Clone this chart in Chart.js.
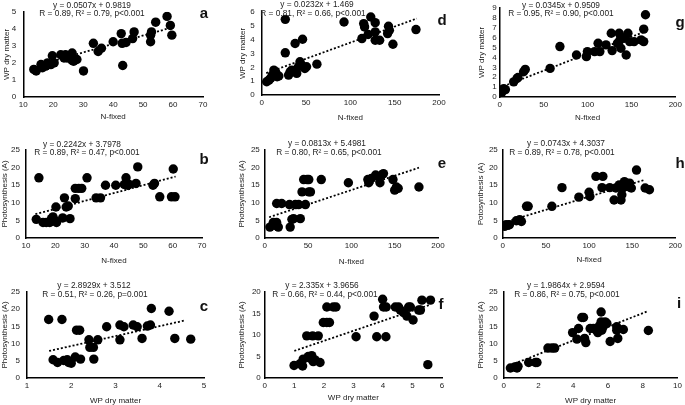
<!DOCTYPE html>
<html>
<head>
<meta charset="utf-8">
<script src="https://cdn.jsdelivr.net/npm/chart.js@4.4.1/dist/chart.umd.min.js"></script>
<style>
body{margin:0;background:#fff;}
#wrap{position:relative;width:685px;height:405px;overflow:hidden;font-family:"Liberation Sans",Arial,sans-serif;color:#222;}
canvas{position:absolute;}
.eq{position:absolute;font-size:8.3px;white-space:nowrap;transform:translate(-50%,-50%);}
.lab{position:absolute;font-size:15px;font-weight:bold;color:#111;transform:translate(-50%,-50%);}
</style>
</head>
<body>
<div id="wrap"></div>
<script>
// ---- data ----
// a: N-fixed vs WP dry matter
const aNfix = [13.5,14.3,15.9,16.4,17.5,18.1,19.2,19.7,20.3,22.5,23.6,24.1,24.6,26.3,26.3,26.8,27.9,30.1,33.4,35.0,36.1,40.0,42.7,43.0,43.2,44.3,46.5,47.0,52.5,52.5,52.8,54.2,58.0,59.1,59.6];
const aWP   = [1.62,1.53,1.91,1.72,1.81,2.0,1.9,2.42,2.0,2.48,2.29,2.48,2.29,2.58,2.14,2.1,2.2,1.53,3.15,2.67,2.86,3.24,3.72,3.15,1.85,3.2,3.43,3.82,3.24,3.63,3.82,4.39,4.73,4.2,3.63];
const aTrendX = [13.5, 60];
const aTrendY = [1.8, 4.1];
// b: N-fixed vs photosynthesis
const bNfix = [13.5,14.4,15.8,16.9,18.1,18.7,19.2,19.8,20.4,20.2,22.5,23.1,23.7,24.4,25.0,26.8,26.8,28.0,29.0,30.8,33.9,35.4,37.1,40.6,43.5,44.1,44.6,45.2,47.5,48.1,53.3,53.8,55.6,59.6,60.2,60.8];
const bPhoto = [5.3,17.1,4.4,4.4,4.4,5.5,6.0,5.0,4.4,8.8,5.7,11.4,8.8,9.1,5.5,14.1,11.2,14.1,14.1,17.1,11.4,11.4,15.0,15.0,15.2,17.1,15.0,15.2,15.5,20.2,15.0,15.5,11.7,11.7,19.6,11.7];
const bTrendX = [13.2, 61];
const bTrendY = [6.76, 17.47];
// c: WP dry matter vs photosynthesis
const cWP = [1.49,1.59,1.69,1.79,1.83,1.91,1.94,2.0,2.09,2.12,2.19,2.21,2.40,2.42,2.50,2.51,2.60,2.80,3.10,3.10,3.19,3.40,3.49,3.60,3.72,3.79,3.81,4.21,4.34,4.70];
const cPhoto = [17.0,5.3,4.5,17.0,5.1,5.3,4.5,4.3,6.1,13.9,13.9,5.5,11.1,8.9,8.9,5.5,11.1,14.9,15.4,11.1,14.9,15.4,14.9,11.5,15.1,15.4,20.2,19.4,11.5,11.3];
const cTrendX = [1.5, 4.55];
const cTrendY = [7.85, 16.67];
// d: N-fixed vs WP dry matter
const dNfix = [5.5,8.1,9.9,11.8,13.6,15.5,17.3,19.2,26.5,26.5,30.2,32.0,33.9,37.6,39.4,41.3,43.1,44.9,46.0,48.6,50.5,62.2,92.8,113,115,116,120,123,128,128,128,133,142,143,144,148,174];
const dWP   = [0.96,1.08,1.2,1.44,1.8,1.68,1.32,1.37,5.47,3.05,1.44,1.68,1.8,3.72,1.56,2.04,2.4,2.16,4.03,1.92,2.04,2.23,5.28,4.08,5.16,4.92,4.37,5.64,5.23,4.56,3.96,3.96,4.44,4.97,4.68,3.67,4.73];
const dTrendX = [5, 175];
const dTrendY = [1.58, 5.53];
// e: N-fixed vs photosynthesis
const eNfix = [5.9,9.8,11.7,13.7,15.6,13.7,19.5,28.5,29.3,31.3,33.2,35.2,39.1,41.0,43.0,44.9,46.9,48.8,50.8,52.7,50.8,65.2,96.5,119,120,123,128,131,133,135,137,148,150,152,154,178];
const ePhoto = [3.1,4.4,3.6,4.4,3.1,9.8,9.8,9.5,3.1,5.3,5.5,9.5,9.5,5.5,13.1,16.6,9.5,16.6,13.1,13.1,16.6,16.6,15.7,16.6,15.7,16.9,17.9,17.4,15.7,17.9,18.3,16.6,13.6,14.5,14.1,14.5];
const eTrendX = [5, 178];
const eTrendY = [5.9, 19.97];
// f: WP dry matter vs photosynthesis
const fWP = [0.99,1.19,1.28,1.30,1.47,1.53,1.59,1.64,1.70,1.87,1.42,1.62,1.81,1.98,2.10,2.19,2.10,2.32,2.41,3.09,3.70,3.79,3.99,4.02,4.11,4.10,4.42,4.53,4.59,4.70,4.81,4.87,4.93,5.02,5.21,5.27,5.32,5.52,5.61];
const fPhoto = [2.9,3.3,2.8,4.4,5.0,4.6,5.2,3.8,4.2,3.6,9.8,9.8,9.8,12.9,12.9,12.9,16.5,16.5,16.5,9.6,14.4,9.6,18.3,16.5,16.5,9.6,16.5,16.5,15.8,15.2,14.4,16.5,16.5,13.5,15.8,15.8,18.1,3.1,18.1];
const fTrendX = [1, 5.6];
const fTrendY = [6.3, 17.04];
// g: N-fixed vs WP dry matter
const gNfix = [0.8,1.9,2.6,4.5,6.4,15.8,19.6,20.7,27.1,29.0,57.3,68.5,87.4,98.7,99.8,108,112,114,121,127,128,134,136,137,138,142,144,146,148,153,161,164,164,166];
const gWP   = [0.17,0.68,0.51,0.85,0.75,1.53,1.87,1.97,2.55,2.79,2.89,5.1,4.25,4.08,4.59,4.59,5.43,4.59,5.27,6.45,4.69,5.43,6.45,5.77,4.93,5.94,4.25,6.45,5.6,5.6,5.77,5.6,6.86,8.32];
const gTrendX = [0, 165];
const gTrendY = [0.95, 6.6];
// h: N-fixed vs photosynthesis
const hNfix = [2.0,3.9,5.9,7.8,15.7,19.6,21.6,27.5,29.4,56.9,68.6,88.2,100,101,108,116,115,124,129,131,135,137,138,139,141,143,145,147,149,155,165,170];
const hPhoto = [3.3,3.8,3.6,3.8,4.9,5.2,4.7,9.0,9.0,9.0,14.3,11.6,13.0,11.8,17.5,17.5,14.3,14.3,10.8,14.2,15.1,10.8,12.3,14.2,16.0,15.1,14.6,15.6,14.2,19.3,14.2,13.7];
const hTrendX = [1, 165];
const hTrendY = [4.38, 16.56];
// i: WP dry matter vs photosynthesis
const iWP = [0.38,0.63,0.76,0.82,1.43,1.82,1.91,2.54,2.77,2.93,3.96,4.21,4.30,4.49,4.59,4.65,4.72,4.97,5.16,5.35,5.41,5.49,5.60,5.60,5.64,5.74,5.83,5.93,6.12,6.50,6.50,6.56,6.88,8.32];
const iPhoto = [2.9,3.2,2.9,3.4,4.5,4.5,4.5,8.7,8.7,8.7,13.2,11.3,14.4,17.6,17.6,11.5,10.3,14.4,14.4,13.9,13.2,15.1,16.3,19.2,13.9,15.1,16.3,15.9,10.6,14.9,13.9,11.5,14.1,13.8];
const iTrendX = [0.4, 8.3];
const iTrendY = [3.75, 19.45];

// axis ranges [min, max, step]
const nfixSmallAxis = [10, 70, 10];
const nfixBigAxis = [0, 200, 50];
const wpAxisA = [0, 5, 1];
const wpAxisD = [0, 6, 1];
const wpAxisG = [0, 9, 1];
const photoAxis = [0, 25, 5];
const photoAxisF = [0, 20, 5];
const wpAxisC = [1, 5, 1];
const wpAxisF = [0, 6, 1];
const wpAxisI = [0, 10, 2];

const eqTexts = {
  a: ['y = 0.0507x + 0.9819', 'R = 0.89, R² = 0.79, p<0.001'],
  b: ['y = 0.2242x + 3.7978', 'R = 0.89, R² = 0.47, p<0.001'],
  c: ['y = 2.8929x + 3.512', 'R = 0.51, R² = 0.26, p=0.001'],
  d: ['y = 0.0232x + 1.469', 'R = 0.81, R² = 0.66, p<0.001'],
  e: ['y = 0.0813x + 5.4981', 'R = 0.80, R² = 0.65, p<0.001'],
  f: ['y = 2.335x + 3.9656', 'R = 0.66, R² = 0.44, p<0.001'],
  g: ['y = 0.0345x + 0.9509', 'R = 0.95, R² = 0.90, p<0.001'],
  h: ['y = 0.0743x + 4.3037', 'R = 0.89, R² = 0.78, p<0.001'],
  i: ['y = 1.9864x + 2.9594', 'R = 0.86, R² = 0.75, p<0.001']
};

const wrap = document.getElementById('wrap');
const tickFont = {family: '"Liberation Sans", Arial, sans-serif', size: 8};
const txtColor = '#222';

function pts(xs, ys) { return xs.map((x, i) => ({x: x, y: ys[i]})); }

function addText(cls, txt, x, y) {
  const d = document.createElement('div');
  d.className = cls;
  d.textContent = txt;
  d.style.left = x + 'px';
  d.style.top = y + 'px';
  wrap.appendChild(d);
}

function panel(p) {
  const L = p.tl - 4.8;           // y title centre sits 4.8px in from canvas edge
  const yw = p.area.l - L;
  const T = p.top;
  const W = p.right - L;
  const H = p.area.b + p.xh - T;
  const cv = document.createElement('canvas');
  cv.width = Math.round(W); cv.height = Math.round(H);
  cv.style.left = L + 'px'; cv.style.top = T + 'px';
  wrap.appendChild(cv);
  new Chart(cv, {
    type: 'scatter',
    data: {
      datasets: [
        {data: pts(p.xs, p.ys), backgroundColor: '#000', borderWidth: 0, pointRadius: 4.7, order: 2},
        {type: 'line', data: pts(p.tx, p.ty), borderColor: '#000', borderWidth: 1.8, borderDash: [2, 2],
         pointRadius: 0, fill: false, order: 1}
      ]
    },
    options: {
      responsive: false, animation: false, devicePixelRatio: 1,
      layout: {padding: {top: p.area.t - T, right: p.right - p.area.r, left: 0, bottom: 0}},
      plugins: {legend: {display: false}, tooltip: {enabled: false}},
      scales: {
        x: {
          type: 'linear', min: p.xAxis[0], max: p.xAxis[1],
          ticks: {stepSize: p.xAxis[2], padding: 3, font: tickFont, color: txtColor, maxRotation: 0, autoSkip: false},
          grid: {display: false, drawTicks: false}, border: {display: true, color: '#000', width: 1.5},
          title: {display: true, text: p.xTitle, padding: 0, font: tickFont, color: txtColor},
          afterFit: s => { s.height = p.xh; }
        },
        y: {
          type: 'linear', min: p.yAxis[0], max: p.yAxis[1],
          ticks: {stepSize: p.yAxis[2], padding: p.yp, font: tickFont, color: txtColor, autoSkip: false},
          grid: {display: false, drawTicks: false}, border: {display: true, color: '#000', width: 1.5},
          title: {display: true, text: p.yTitle, padding: 0, font: tickFont, color: txtColor},
          afterFit: s => { s.width = yw; }
        }
      }
    }
  });
  addText('eq', eqTexts[p.id][0], p.eq[0], p.eq[1]);
  addText('eq', eqTexts[p.id][1], p.eq[2], p.eq[3]);
  addText('lab', p.id, p.lab[0], p.lab[1]);
}

const wpT = 'WP dry matter', nT = 'N-fixed', phT = 'Photosynthesis (A)';

panel({id: 'a', top: 0, right: 228, tl: 6.5, area: {l: 23, r: 203, t: 9, b: 97}, xh: 25, yp: 7,
  xs: aNfix, ys: aWP, tx: aTrendX, ty: aTrendY, xAxis: nfixSmallAxis, yAxis: wpAxisA, xTitle: nT, yTitle: wpT,
  eq: [92, 5, 92, 13], lab: [204, 12]});
panel({id: 'b', top: 135, right: 228, tl: 4.8, area: {l: 26, r: 202, t: 150, b: 238}, xh: 28, yp: 6,
  xs: bNfix, ys: bPhoto, tx: bTrendX, ty: bTrendY, xAxis: nfixSmallAxis, yAxis: photoAxis, xTitle: nT, yTitle: phT,
  eq: [82, 144, 87, 152], lab: [204, 158]});
panel({id: 'c', top: 270, right: 228, tl: 4.8, area: {l: 27, r: 204, t: 292, b: 378}, xh: 28, yp: 7,
  xs: cWP, ys: cPhoto, tx: cTrendX, ty: cTrendY, xAxis: wpAxisC, yAxis: photoAxis, xTitle: wpT, yTitle: phT,
  eq: [94, 285, 95, 294], lab: [204, 305]});
panel({id: 'd', top: 0, right: 466, tl: 243, area: {l: 262, r: 439, t: 12, b: 95}, xh: 28, yp: 7,
  xs: dNfix, ys: dWP, tx: dTrendX, ty: dTrendY, xAxis: nfixBigAxis, yAxis: wpAxisD, xTitle: nT, yTitle: wpT,
  eq: [317, 4, 313, 13], lab: [442, 19]});
panel({id: 'e', top: 135, right: 466, tl: 242, area: {l: 265, r: 438, t: 150, b: 238}, xh: 29, yp: 5,
  xs: eNfix, ys: ePhoto, tx: eTrendX, ty: eTrendY, xAxis: nfixBigAxis, yAxis: photoAxis, xTitle: nT, yTitle: phT,
  eq: [327, 143, 329, 152], lab: [442, 162]});
panel({id: 'f', top: 270, right: 466, tl: 242, area: {l: 265, r: 442, t: 292, b: 378}, xh: 25, yp: 4,
  xs: fWP, ys: fPhoto, tx: fTrendX, ty: fTrendY, xAxis: wpAxisF, yAxis: photoAxisF, xTitle: wpT, yTitle: phT,
  eq: [322, 285, 325, 294], lab: [441, 303]});
panel({id: 'g', top: 0, right: 685, tl: 482, area: {l: 500, r: 677, t: 8, b: 97}, xh: 26, yp: 3,
  xs: gNfix, ys: gWP, tx: gTrendX, ty: gTrendY, xAxis: nfixBigAxis, yAxis: wpAxisG, xTitle: nT, yTitle: wpT,
  eq: [561, 5, 561, 13], lab: [680, 21]});
panel({id: 'h', top: 135, right: 685, tl: 481, area: {l: 503, r: 676, t: 150, b: 238}, xh: 27, yp: 5,
  xs: hNfix, ys: hPhoto, tx: hTrendX, ty: hTrendY, xAxis: nfixBigAxis, yAxis: photoAxis, xTitle: nT, yTitle: 'Potosynthesis (A)',
  eq: [566, 143, 562, 152], lab: [680, 162]});
panel({id: 'i', top: 270, right: 685, tl: 481, area: {l: 504, r: 679, t: 292, b: 378}, xh: 28, yp: 6,
  xs: iWP, ys: iPhoto, tx: iTrendX, ty: iTrendY, xAxis: wpAxisI, yAxis: photoAxis, xTitle: wpT, yTitle: phT,
  eq: [566, 285, 567, 294], lab: [679, 302]});
</script>
</body>
</html>
